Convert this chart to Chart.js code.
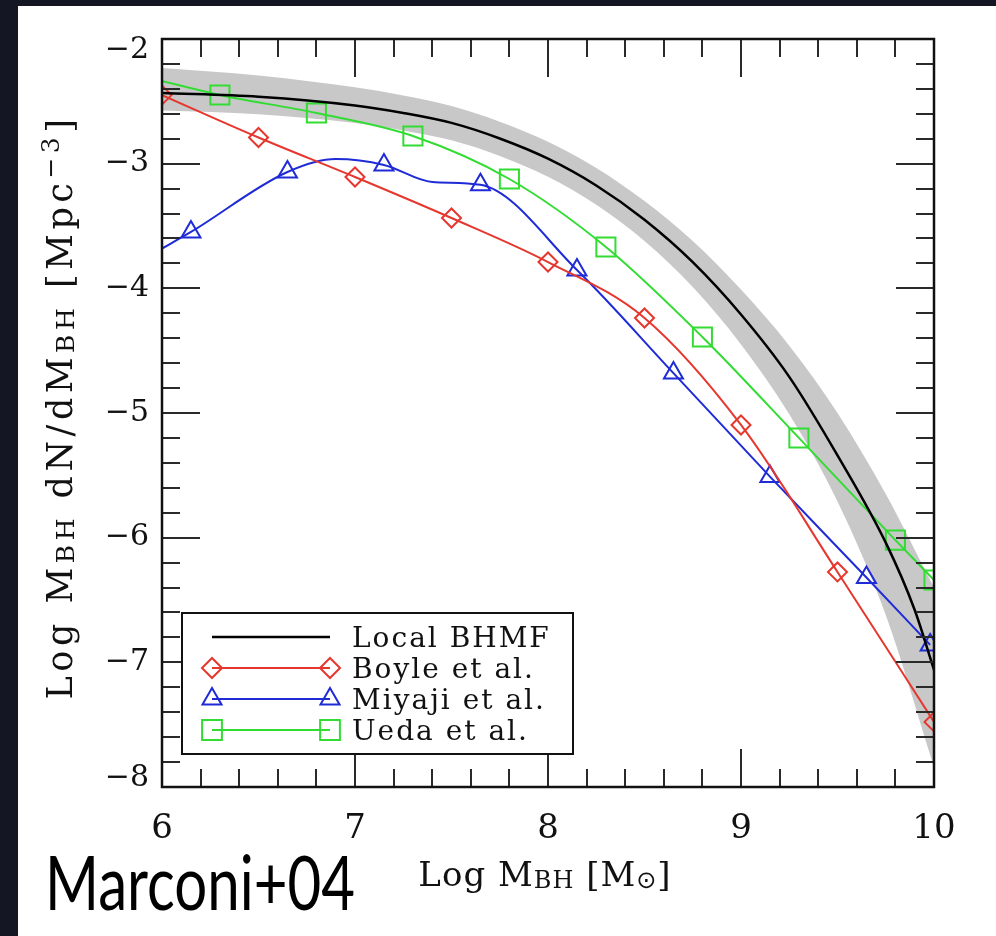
<!DOCTYPE html>
<html><head><meta charset="utf-8">
<script src="https://cdn.jsdelivr.net/npm/chart.js@4.4.1/dist/chart.umd.min.js"></script>
<style>html,body{margin:0;padding:0;background:#141624;overflow:hidden}
canvas{display:block}</style></head>
<body><canvas id="c" width="996" height="936"></canvas>
<script>
// ---- data ----
const xTickValues = [6, 7, 8, 9, 10];
const xTickLabels = ['6', '7', '8', '9', '10'];
const yTickValues = [-2, -3, -4, -5, -6, -7, -8];
const yTickLabels = ['\u22122', '\u22123', '\u22124', '\u22125', '\u22126', '\u22127', '\u22128'];

const localMass    = [6, 6.5, 7, 7.25, 7.5, 7.75, 8, 8.25, 8.5, 8.75, 9, 9.25, 9.5, 9.75, 9.9, 10];
const localDensity = [-2.433, -2.463, -2.533, -2.593, -2.673, -2.798, -2.96, -3.175, -3.45, -3.79, -4.21, -4.71, -5.34, -6.04, -6.58, -7.06];

const bandMass  = [6, 6.5, 7, 7.25, 7.5, 7.75, 8, 8.25, 8.5, 8.75, 9, 9.25, 9.5, 9.75, 10];
const bandUpper = [-2.233, -2.293, -2.388, -2.453, -2.538, -2.663, -2.825, -3.035, -3.30, -3.62, -4.01, -4.46, -5.00, -5.65, -6.40];
const bandLower = [-2.573, -2.603, -2.673, -2.733, -2.813, -2.938, -3.105, -3.33, -3.62, -3.99, -4.45, -5.01, -5.71, -6.62, -7.84];

const boyleMass    = [6, 6.5, 7, 7.5, 8, 8.5, 9, 9.5, 10];
const boyleDensity = [-2.45, -2.79, -3.107, -3.436, -3.789, -4.238, -5.096, -6.275, -7.478];
const boyleMarker  = [1, 1, 1, 1, 1, 1, 1, 1, 1];

const miyajiMass    = [6, 6.15, 6.65, 6.9, 7.15, 7.4, 7.65, 8.15, 8.65, 9.15, 9.65, 9.98];
const miyajiDensity = [-3.68, -3.548, -3.067, -2.963, -3.01, -3.147, -3.17, -3.853, -4.68, -5.51, -6.32, -6.86];
const miyajiMarker  = [0, 1, 1, 0, 1, 0, 1, 1, 1, 1, 1, 1];

const uedaMass    = [6, 6.3, 6.8, 7.3, 7.8, 8.3, 8.8, 9.3, 9.8, 10];
const uedaDensity = [-2.337, -2.449, -2.594, -2.778, -3.123, -3.668, -4.39, -5.20, -6.02, -6.34];
const uedaMarker  = [0, 1, 1, 1, 1, 1, 1, 1, 1, 1];

const seriesNames = ['Local BHMF', 'Boyle et al.', 'Miyaji et al.', 'Ueda et al.'];

// ---- styles ----
const RED = '#e6372f', BLUE = '#1f2bd6', GREEN = '#33dc33', BAND = '#c8c8c8';
const SERIF = '"DejaVu Serif", "Liberation Serif", serif';
const pts = (xs, ys) => xs.map((x, i) => ({x, y: ys[i]}));

function drawRich(ctx, runs, x, y, base, family, align, spacing) {
  ctx.save();
  try { ctx.letterSpacing = (spacing || 0) + 'px'; } catch (e) {}
  let total = 0;
  const w = runs.map(r => { ctx.font = Math.round(base * (r.s || 1)) + 'px ' + (r.f || family); const m = ctx.measureText(r.t).width; total += m; return m; });
  let cx = align === 'center' ? x - total / 2 : (align === 'right' ? x - total : x);
  ctx.textBaseline = 'alphabetic'; ctx.textAlign = 'left';
  runs.forEach((r, i) => {
    ctx.font = Math.round(base * (r.s || 1)) + 'px ' + (r.f || family);
    ctx.fillText(r.t, cx, y + (r.dy || 0));
    cx += w[i];
  });
  ctx.restore();
  return total;
}

const bgPlugin = {
  id: 'bg',
  beforeDraw(chart) {
    const c = chart.ctx; c.save();
    c.fillStyle = '#141624'; c.fillRect(0, 0, chart.width, chart.height);
    c.fillStyle = '#ffffff'; c.fillRect(18, 6, chart.width - 18, chart.height - 6);
    c.restore();
  }
};

function marker(ctx, style, x, y, r) {
  Chart.helpers.drawPoint(ctx, {pointStyle: style, radius: r, borderWidth: 2, rotation: 0}, x, y);
}

const framePlugin = {
  id: 'frame',
  afterDatasetsDraw(chart) {
    const ctx = chart.ctx, a = chart.chartArea, xs = chart.scales.x, ys = chart.scales.y;
    ctx.save();
    // inward ticks
    ctx.strokeStyle = '#2a2a2a'; ctx.lineWidth = 2;
    ctx.beginPath();
    for (let i = 0; i <= 20; i++) {
      const px = Math.round(xs.getPixelForValue(6 + i * 0.2));
      const L = i % 5 === 0 ? 38 : 18;
      ctx.moveTo(px, a.bottom); ctx.lineTo(px, a.bottom - L);
      ctx.moveTo(px, a.top); ctx.lineTo(px, a.top + L);
    }
    for (let i = 0; i <= 30; i++) {
      const py = Math.round(ys.getPixelForValue(-8 + i * 0.2));
      const L = i % 5 === 0 ? 38 : 18;
      ctx.moveTo(a.left, py); ctx.lineTo(a.left + L, py);
      ctx.moveTo(a.right, py); ctx.lineTo(a.right - L, py);
    }
    ctx.stroke();
    ctx.strokeStyle = '#111'; ctx.lineWidth = 2.5;
    ctx.strokeRect(a.left, a.top, a.right - a.left, a.bottom - a.top);

    // tick labels
    ctx.fillStyle = '#111';
    ctx.font = '30px ' + SERIF; ctx.textAlign = 'right'; ctx.textBaseline = 'middle';
    yTickValues.forEach((v, i) => {
      let py = ys.getPixelForValue(v);
      py = Math.min(Math.max(py, a.top + 11), a.bottom - 9);
      ctx.fillText(yTickLabels[i], a.left - 13, py);
    });
    ctx.font = '34px ' + SERIF; ctx.textAlign = 'center';
    xTickValues.forEach((v, i) => {
      ctx.fillText(xTickLabels[i], xs.getPixelForValue(v), 829);
    });

    // axis titles
    drawRich(ctx, [
      {t: 'Log M'}, {t: 'BH', s: 0.7, dy: 2}, {t: ' [M'}, {t: '\u2299', s: 0.7, dy: 2, f: '"DejaVu Sans", sans-serif'}, {t: ']'}
    ], (a.left + a.right) / 2 - 3, 886, 34, SERIF, 'center', 1);
    ctx.save();
    ctx.translate(72, 407);
    ctx.rotate(-Math.PI / 2);
    drawRich(ctx, [
      {t: 'Log M'}, {t: 'BH', s: 0.7, dy: 2}, {t: ' dN/dM'}, {t: 'BH', s: 0.7, dy: 2},
      {t: ' [Mpc'}, {t: '\u22123', s: 0.7, dy: -13}, {t: ']'}
    ], 0, 0, 35, SERIF, 'center', 4.5);
    ctx.restore();

    // legend box
    const bx = 182, by = 613, bw = 391, bh = 141;
    ctx.fillStyle = '#ffffff'; ctx.fillRect(bx, by, bw, bh);
    ctx.strokeStyle = '#111'; ctx.lineWidth = 2; ctx.strokeRect(bx, by, bw, bh);
    const rows = [637, 668, 699, 730];
    const cols = ['#000', RED, BLUE, GREEN];
    const styles = [null, 'rectRot', 'triangle', 'rect'];
    const radii = [0, 10, 11, 14];
    rows.forEach((ry, i) => {
      ctx.strokeStyle = cols[i]; ctx.lineWidth = i === 0 ? 2.5 : 2;
      ctx.beginPath(); ctx.moveTo(212, ry); ctx.lineTo(330, ry); ctx.stroke();
      if (styles[i]) {
        ctx.fillStyle = 'rgba(0,0,0,0)';
        marker(ctx, styles[i], 212, ry, radii[i]);
        marker(ctx, styles[i], 330, ry, radii[i]);
      }
      ctx.fillStyle = '#111';
      drawRich(ctx, [{t: seriesNames[i]}], 352, ry + 10, 28, SERIF, 'left', 2);
    });

    // slide credit
    ctx.fillStyle = '#000';
    ctx.font = '400 76px Lato, "Open Sans", sans-serif';
    const txt = 'Marconi+04';
    const mw = ctx.measureText(txt).width;
    ctx.save(); ctx.translate(45, 910); ctx.scale(310 / mw, 1);
    ctx.textAlign = 'left'; ctx.textBaseline = 'alphabetic';
    ctx.fillText(txt, 0, 0);
    ctx.restore();
    ctx.restore();
  }
};

const lineDs = (label, xs, ys, color, style, radius, mk) => ({
  label, data: pts(xs, ys), borderColor: color, borderWidth: 2, fill: false,
  cubicInterpolationMode: 'monotone',
  pointStyle: style, pointRadius: mk.map(m => m ? radius : 0), pointBorderWidth: 2,
  pointBorderColor: color, pointBackgroundColor: 'rgba(0,0,0,0)', pointHoverRadius: 0
});

new Chart(document.getElementById('c'), {
  type: 'line',
  data: {
    datasets: [
      {label: seriesNames[0], data: pts(localMass, localDensity), borderColor: '#000', borderWidth: 2.5, pointRadius: 0, fill: false, cubicInterpolationMode: 'monotone'},
      lineDs(seriesNames[1], boyleMass, boyleDensity, RED, 'rectRot', 9.5, boyleMarker),
      lineDs(seriesNames[2], miyajiMass, miyajiDensity, BLUE, 'triangle', 11, miyajiMarker),
      lineDs(seriesNames[3], uedaMass, uedaDensity, GREEN, 'rect', 13.5, uedaMarker),
      {label: 'band upper', data: pts(bandMass, bandUpper), borderColor: 'rgba(0,0,0,0)', borderWidth: 1, pointRadius: 0, fill: false, cubicInterpolationMode: 'monotone'},
      {label: 'band lower', data: pts(bandMass, bandLower), borderColor: 'rgba(0,0,0,0)', borderWidth: 1, pointRadius: 0, fill: '-1', backgroundColor: BAND, cubicInterpolationMode: 'monotone'}
    ]
  },
  options: {
    responsive: false, animation: false, devicePixelRatio: 1,
    layout: {padding: {left: 0, top: 39, right: 62, bottom: 0}},
    plugins: {legend: {display: false}, tooltip: {enabled: false}, title: {display: false}},
    scales: {
      x: {type: 'linear', min: 6, max: 10, ticks: {display: false}, grid: {display: false}, border: {display: false},
          afterFit(s) { s.height = 149; }},
      y: {type: 'linear', min: -8, max: -2, ticks: {display: false}, grid: {display: false}, border: {display: false},
          afterFit(s) { s.width = 162; }}
    }
  },
  plugins: [bgPlugin, framePlugin]
});
</script>
</body></html>
